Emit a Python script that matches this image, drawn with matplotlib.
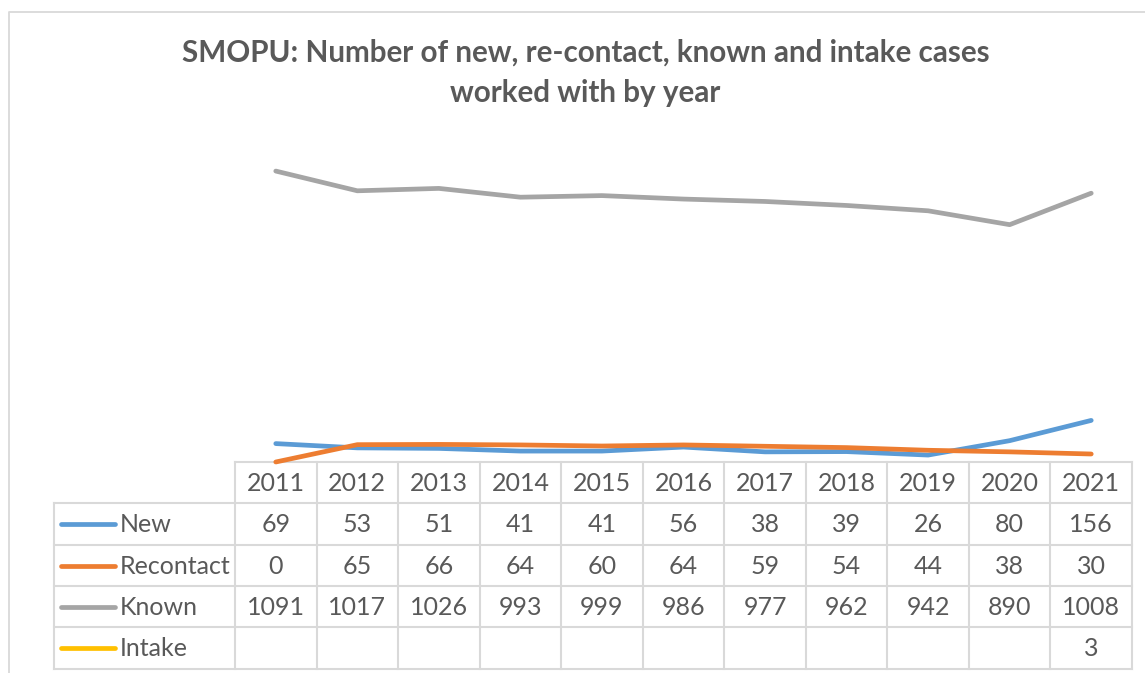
import matplotlib
matplotlib.use("Agg")
import matplotlib.pyplot as plt
import numpy as np

years = ["2011", "2012", "2013", "2014", "2015", "2016", "2017", "2018", "2019", "2020", "2021"]
series_names = ["New", "Recontact", "Known", "Intake"]
new = [69, 53, 51, 41, 41, 56, 38, 39, 26, 80, 156]
recontact = [0, 65, 66, 64, 60, 64, 59, 54, 44, 38, 30]
known = [1091, 1017, 1026, 993, 999, 986, 977, 962, 942, 890, 1008]
intake = [None] * 10 + [3]
colors = ["#5B9BD5", "#ED7D31", "#A5A5A5", "#FFC000"]
title = "SMOPU: Number of new, re-contact, known and intake cases\nworked with by year"

W, H = 1145, 673
FONT = "Lato"
TXT = "#595959"
GRID = "#D9D9D9"

fig = plt.figure(figsize=(W / 100, H / 100), dpi=100)

# overlay axes in pixel coordinates
ov = fig.add_axes([0, 0, 1, 1])
ov.set_xlim(0, W)
ov.set_ylim(H, 0)
ov.axis("off")

# chart border
ov.plot([9, 9, W + 5], [H + 5, 11.5, 11.5], color=GRID, lw=1.3, zorder=1)

# plot area
px0, px1 = 235, 1132
py_top, py_bot = 142, 462
ax = fig.add_axes([px0 / W, 1 - py_bot / H, (px1 - px0) / W, (py_bot - py_top) / H])
ax.set_xlim(-0.5, len(years) - 0.5)
ax.set_ylim(0, 1200)
ax.axis("off")

data = [new, recontact, known, intake]
x = np.arange(len(years))
for vals, c in zip(data, colors):
    y = np.array([np.nan if v is None else v for v in vals], dtype=float)
    ax.plot(x, y, color=c, lw=3.4, solid_capstyle="round", solid_joinstyle="round", clip_on=False)

# title
fig.text(0.5 * (183 + 988) / W, 1 - 73 / H, title, ha="center", va="center",
         fontsize=21.3, fontweight="bold", color=TXT, family=FONT, linespacing=1.52)

# data table
col_edges = [px0 + i * (px1 - px0) / len(years) for i in range(len(years) + 1)]
row_edges = [462, 503, 545, 586, 627, 668.5]
left = 54
lw = 1.5
# horizontal lines
ov.plot([px0, px1], [row_edges[0], row_edges[0]], color=GRID, lw=lw)
for ry in row_edges[1:]:
    ov.plot([left, px1], [ry, ry], color=GRID, lw=lw)
# vertical lines
ov.plot([left, left], [row_edges[1], row_edges[-1]], color=GRID, lw=lw)
for cx in col_edges:
    ov.plot([cx, cx], [row_edges[0], row_edges[-1]], color=GRID, lw=lw)

fs = 18
for i, yr in enumerate(years):
    cx = 0.5 * (col_edges[i] + col_edges[i + 1])
    ov.text(cx, 0.5 * (row_edges[0] + row_edges[1]) + 1, yr, ha="center", va="center",
            fontsize=fs, color=TXT, family=FONT)

for r, (name, vals, c) in enumerate(zip(series_names, data, colors)):
    cy = 0.5 * (row_edges[r + 1] + row_edges[r + 2]) + 1
    ov.plot([61, 115], [cy - 1, cy - 1], color=c, lw=3.4, solid_capstyle="round")
    ov.text(120, cy, name, ha="left", va="center", fontsize=fs, color=TXT, family=FONT)
    for i, v in enumerate(vals):
        if v is None:
            continue
        cx = 0.5 * (col_edges[i] + col_edges[i + 1])
        ov.text(cx, cy, str(v), ha="center", va="center", fontsize=fs, color=TXT, family=FONT)

fig.savefig("out.png", dpi=100)
